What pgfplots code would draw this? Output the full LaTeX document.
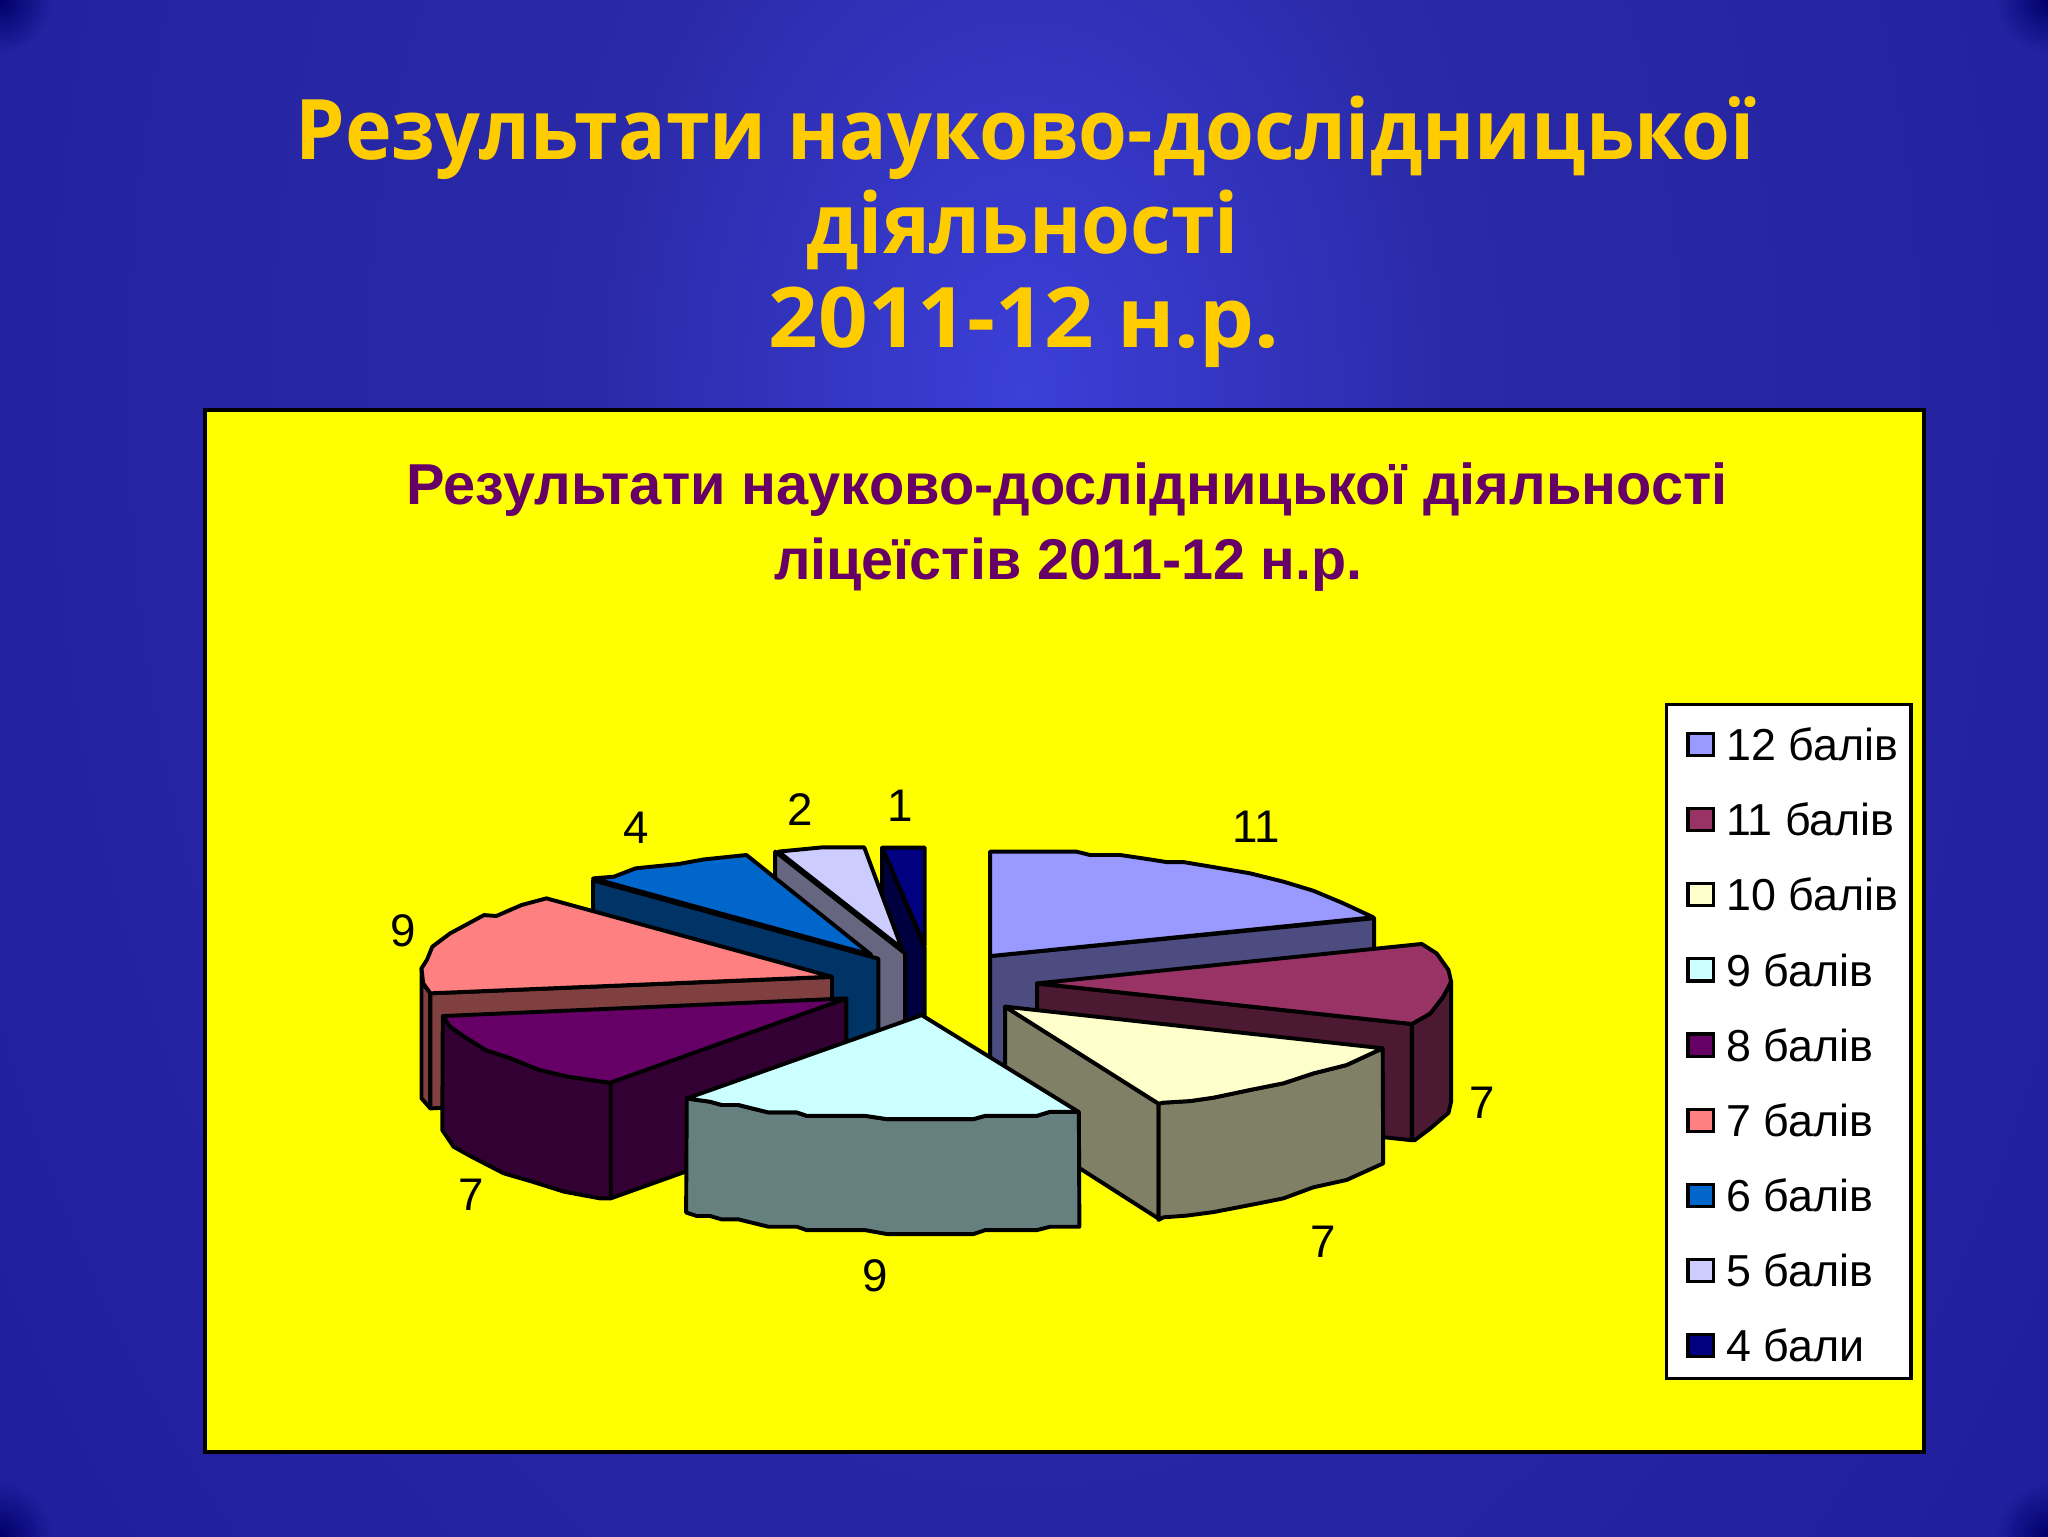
\documentclass[border=0pt]{standalone}
\usepackage{graphicx}
\usepackage{pgfplots}
\pgfplotsset{compat=1.18}
\usetikzlibrary{fadings}
\tikzfading[name=cornerfade, inner color=transparent!0, outer color=transparent!100]
\usepackage{fontspec}
\setmainfont{Liberation Sans}
\newfontfamily\titlefont{Open Sans}
\definecolor{g1}{HTML}{9999FF}\definecolor{w1}{HTML}{4C4C80}
\definecolor{g2}{HTML}{993366}\definecolor{w2}{HTML}{4C1933}
\definecolor{g3}{HTML}{FFFFCC}\definecolor{w3}{HTML}{808066}
\definecolor{g4}{HTML}{CCFFFF}\definecolor{w4}{HTML}{668080}
\definecolor{g5}{HTML}{660066}\definecolor{w5}{HTML}{330033}
\definecolor{g6}{HTML}{FF8080}\definecolor{w6}{HTML}{804040}
\definecolor{g7}{HTML}{0066CC}\definecolor{w7}{HTML}{003366}
\definecolor{g8}{HTML}{CCCCFF}\definecolor{w8}{HTML}{666680}
\definecolor{g9}{HTML}{000080}\definecolor{w9}{HTML}{000040}
\definecolor{gold}{HTML}{FFCC00}
\definecolor{plum}{HTML}{660066}
\definecolor{panel}{HTML}{FFFF00}
\definecolor{s0}{HTML}{3C3FD8}\definecolor{s1}{HTML}{2A2AA8}\definecolor{s2}{HTML}{1F1C9C}
\definecolor{s3}{HTML}{16148F}\definecolor{s4}{HTML}{14128C}\definecolor{s5}{HTML}{0A0A78}
\definecolor{cornerc}{HTML}{00006A}
\pgfdeclareradialshading{slidebg}{\pgfpoint{0bp}{0bp}}{%
  color(0bp)=(s0);color(7.5bp)=(s1);color(25bp)=(s2);color(33bp)=(s3);color(40bp)=(s4);color(50bp)=(s5)}
\pgfplotsset{
  slice/.style={draw=black,line width=3pt,line join=round,mark=none,forget plot,fill=#1},
  swatch/.style={legend image code/.code={
    \path (0pt,0pt) (33pt,0pt);
    \draw[draw=black,line width=2.4pt,fill=#1] (7pt,-8pt) rectangle (26.5pt,9pt);}},
  swatchfirst/.style={legend image code/.code={
    \path (0pt,21pt) (33pt,0pt);
    \draw[draw=black,line width=2.4pt,fill=#1] (7pt,-8pt) rectangle (26.5pt,9pt);}},
}
\begin{document}
\begin{tikzpicture}
\begin{axis}[
  scale only axis,width=1568pt,height=1176pt,
  xmin=0,xmax=1568,ymin=0,ymax=1176,y dir=reverse,
  axis lines=none,clip=true,
  legend cell align=left,
  legend style={at={(axis cs:1275,538)},anchor=north west,draw=black,line width=2.4pt,fill=white,
    font=\fontsize{34.3}{34.3}\selectfont,inner xsep=8pt,inner ysep=9pt,row sep=26.9pt},
]
\begin{scope}
\clip (axis cs:0,0) rectangle (axis cs:1568,1176);
\path[overlay,shading=slidebg] (axis cs:-316,-1300) rectangle (axis cs:1884,1900);
\fill[overlay,cornerc,path fading=cornerfade] (axis cs:0,0) circle (40pt);
\fill[overlay,cornerc,path fading=cornerfade] (axis cs:1568,0) circle (40pt);
\fill[overlay,cornerc,path fading=cornerfade] (axis cs:0,1176) circle (40pt);
\fill[overlay,cornerc,path fading=cornerfade] (axis cs:1568,1176) circle (40pt);
\end{scope}
\draw[fill=panel,draw=black,line width=3pt] (axis cs:157,314) rectangle (axis cs:1473,1112);

\addlegendimage{swatchfirst=g1}\addlegendentry{12 балів}
\addlegendimage{swatch=g2}\addlegendentry{11 балів}
\addlegendimage{swatch=g3}\addlegendentry{10 балів}
\addlegendimage{swatch=g4}\addlegendentry{9 балів}
\addlegendimage{swatch=g5}\addlegendentry{8 балів}
\addlegendimage{swatch=g6}\addlegendentry{7 балів}
\addlegendimage{swatch=g7}\addlegendentry{6 балів}
\addlegendimage{swatch=g8}\addlegendentry{5 балів}
\addlegendimage{swatch=g9}\addlegendentry{4 бали}

% 4 бали (1)
\addplot[slice=w9] coordinates {(675.4,649)(708,726)(708,814)(675.4,737)} --cycle;
\addplot[slice=g9] coordinates {(675.4,649)(708,649)(708,724)} --cycle;
% 5 балів (2)
\addplot[slice=w8] coordinates {(593.5,652)(693,730)(693,818)(593.5,740)} --cycle;
\addplot[slice=g8] coordinates {(596,652)(629,648.8)(661.7,648.8)(690.4,726)} --cycle;
% 6 балів (4)
\addplot[slice=w7] coordinates {(454,674)(672.5,734)(672.5,822)(454,762)} --cycle;
\addplot[slice=g7] coordinates {(667,731)(454,672.5)(470,671.2)(486.7,664.8)(519.6,661.5)(538.7,658)(571.5,654.6)} --cycle;
% 7 балів (9)
\addplot[slice=w6] coordinates {(322.7,741.4)(324,752.9)(329.5,760.5)(329.5,848.6)(322.7,840.9)} --cycle;
\addplot[slice=w6] coordinates {(329.5,760.5)(637,748)(637,835)(329.5,848.6)} --cycle;
\addplot[slice=g6] coordinates {(637,747.8)(418.4,687.8)(399.3,692.9)(380,701.3)(370.6,700.6)(344.6,714.6)(331,724.8)(326.8,735)(322.7,741.4)(324,752.9)(329.5,760.5)} --cycle;
% 12 балів (11)
\addplot[slice=w1] coordinates {(758,732)(1052,703)(1052,790)(758,819)} --cycle;
\addplot[slice=g1] coordinates {(758,732)(758,652)(824,652)(834.6,654.6)(857.6,654.6)(880.5,658)(893,660)(906,660)(924,663)(957,668.6)(982.6,675)(1005.6,682)(1028.5,691.6)(1051.5,702.3)} --cycle;
% 8 балів (7)
\addplot[slice=w5] coordinates {(465,829)(648,764.4)(648,853)(467.6,917.5)} --cycle;
\addplot[slice=w5] coordinates {(339,777.9)(344.6,786)(355.5,793.7)(372,804)(391,810.3)(413,819.2)(434.8,824.3)(467.6,829)(467.6,917.5)(459.4,917.5)(432,912.4)(407.5,904.7)(385.6,898.3)(361,885.6)(347.3,878)(338.6,865.2)} --cycle;
\addplot[slice=g5] coordinates {(648,764.4)(339,777.9)(344.6,786)(355.5,793.7)(372,804)(391,810.3)(413,819.2)(434.8,824.3)(467,829)} --cycle;
% 11 балів (7)
\addplot[slice=w2] coordinates {(794,753)(1081,784)(1081,873)(794,842)} --cycle;
\addplot[slice=w2] coordinates {(1081,784)(1095,776)(1105,763)(1111,751.6)(1111,843.5)(1109,852)(1095,864)(1083,873)(1081,873)} --cycle;
\addplot[slice=g2] coordinates {(793.8,752.9)(1088.5,722.7)(1100,730)(1109,742.7)(1111,751.6)(1105,763)(1095,776)(1081,784)} --cycle;
% 10 балів (7)
\addplot[slice=w3] coordinates {(769.5,770.7)(887,845)(887,933)(769.5,858)} --cycle;
\addplot[slice=w3] coordinates {(887,845)(890.7,844.2)(911,843)(929,840.4)(957,834.5)(982.6,829.4)(1005.6,821.8)(1031,815.4)(1058.6,802.6)(1059,890.7)(1031,903.4)(1005.6,909)(982.6,917.5)(957,922.6)(929,928)(908.6,930.7)(890.7,932)(887,934)} --cycle;
\addplot[slice=g3] coordinates {(769.5,770.7)(1058.6,802.6)(1031,815.4)(1005.6,821.8)(982.6,829.4)(957,834.5)(929,840.4)(911,843)(890.7,844.2)(887,845)} --cycle;
% 9 балів (9)
\addplot[slice=w4] coordinates {(525.8,841)(543.7,843.5)(552.6,846)(565.4,846)(588.3,851.7)(610,851.7)(617.7,854.3)(662.3,854.3)(679,856.8)(745.3,856.8)(754.2,854.3)(793.8,854.3)(804,851.2)(826,851.2)(826.4,939.2)(804,939.2)(793.8,941.8)(754.2,941.8)(745.3,944.8)(679,944.8)(662.3,941.8)(617.7,941.8)(610,939.2)(588.3,939.2)(565.4,933.6)(552.6,933.6)(543.7,931)(533.5,931)(525.3,928.3)} --cycle;
\addplot[slice=g4] coordinates {(705.7,777.2)(825.7,851.2)(804,851.2)(793.8,854.3)(754.2,854.3)(745.3,856.8)(679,856.8)(662.3,854.3)(617.7,854.3)(610,851.7)(588.3,851.7)(565.4,846)(552.6,846)(543.7,843.5)(525.8,841)} --cycle;

% data labels
\begin{scope}[every node/.style={font=\fontsize{35}{35}\selectfont,text=black,anchor=base,inner sep=0pt}]
\node at (axis cs:962,645) {11};
\node at (axis cs:1135,856) {7};
\node at (axis cs:1013,963) {7};
\node at (axis cs:670,989) {9};
\node at (axis cs:361,927) {7};
\node at (axis cs:309,725) {9};
\node at (axis cs:487,646) {4};
\node at (axis cs:613,632) {2};
\node at (axis cs:689,629) {1};
\end{scope}

% titles
\node[anchor=base,text=gold,font=\titlefont\bfseries\fontsize{64}{64}\selectfont,inner sep=0pt] at (axis cs:785,122) {\scalebox{0.945}[1]{Результати науково-дослідницької}};
\node[anchor=base,text=gold,font=\titlefont\bfseries\fontsize{64}{64}\selectfont,inner sep=0pt] at (axis cs:783,194) {\scalebox{0.945}[1]{діяльності}};
\node[anchor=base,text=gold,font=\titlefont\bfseries\fontsize{64}{64}\selectfont,inner sep=0pt] at (axis cs:784,266) {\scalebox{1.04}[1]{2011-12 н.р.}};
\node[anchor=base,text=plum,font=\bfseries\fontsize{44.2}{44}\selectfont,inner sep=0pt] at (axis cs:817,386) {Результати науково-дослідницької діяльності};
\node[anchor=base,text=plum,font=\bfseries\fontsize{44}{44}\selectfont,inner sep=0pt] at (axis cs:818,444) {ліцеїстів 2011-12 н.р.};
\end{axis}
\end{tikzpicture}
\end{document}
